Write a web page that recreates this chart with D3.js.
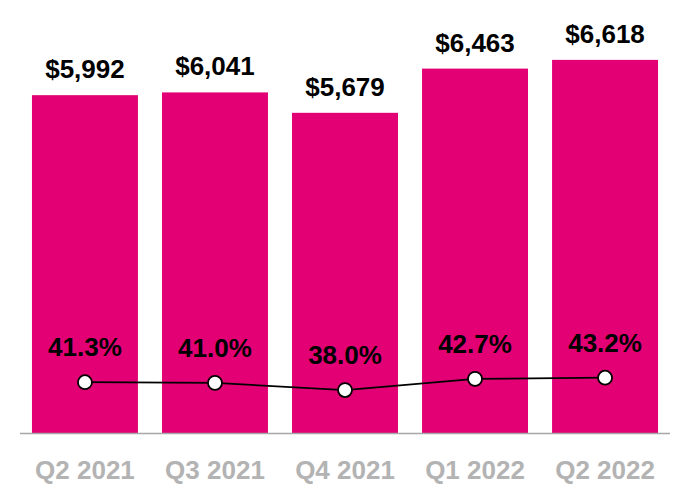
<!DOCTYPE html>
<html>
<head>
<meta charset="utf-8">
<script src="https://cdn.jsdelivr.net/npm/d3@7"></script>
<style>
  html, body { margin: 0; padding: 0; background: #fff; }
  text { font-family: "Liberation Sans", Arial, sans-serif; font-weight: bold; }
</style>
</head>
<body>
<div id="chart"></div>
<script>
const quarters = ['Q2 2021', 'Q3 2021', 'Q4 2021', 'Q1 2022', 'Q2 2022'];
const revenue = [5992, 6041, 5679, 6463, 6618];
const margin = [41.3, 41.0, 38.0, 42.7, 43.2];

const width = 690;
const height = 500;
const baseline = 433;

const svg = d3.select('#chart')
  .append('svg')
    .attr('width', width)
    .attr('height', height);

const x = d3.scaleBand()
  .domain(quarters)
  .range([20, 670])
  .paddingInner(0.185)
  .paddingOuter(0.092);

const y = d3.scaleLinear()
  .domain([0, 7680])
  .range([baseline, 0]);

// margin line sits inside the bars
const yLine = d3.scaleLinear()
  .domain([30, 50])
  .range([409, 361.6]);

const data = quarters.map((q, i) => ({ q, rev: revenue[i], pct: margin[i] }));

svg.append('g')
  .selectAll('rect')
  .data(data)
  .enter()
    .append('rect')
      .attr('x', d => x(d.q))
      .attr('y', d => y(d.rev))
      .attr('width', x.bandwidth())
      .attr('height', d => baseline - y(d.rev))
      .style('fill', '#e20074');

// value labels
svg.append('g')
  .selectAll('text')
  .data(data)
  .enter()
    .append('text')
      .attr('x', d => x(d.q) + x.bandwidth() / 2)
      .attr('y', d => y(d.rev) - 17)
      .attr('text-anchor', 'middle')
      .style('font-size', '26px')
      .style('fill', '#000')
      .text(d => '$' + d3.format(',')(d.rev));

// x axis
const xAxis = svg.append('g')
  .attr('transform', `translate(0,${baseline})`)
  .call(d3.axisBottom(x).tickSize(0).tickPadding(28));
xAxis.select('.domain')
  .attr('d', 'M20,0.5H670')
  .style('stroke', '#a6a6a6')
  .style('stroke-width', 1.5);
xAxis.selectAll('text')
  .style('font-size', '26px')
  .style('font-family', '"Liberation Sans", Arial, sans-serif')
  .style('font-weight', 'bold')
  .style('fill', '#b3b3b3');

// margin line
const line = d3.line()
  .x(d => x(d.q) + x.bandwidth() / 2)
  .y(d => yLine(d.pct));

svg.append('path')
  .datum(data)
  .attr('d', line)
  .style('fill', 'none')
  .style('stroke', '#000')
  .style('stroke-width', 1.8);

svg.append('g')
  .selectAll('circle')
  .data(data)
  .enter()
    .append('circle')
      .attr('cx', d => x(d.q) + x.bandwidth() / 2)
      .attr('cy', d => yLine(d.pct))
      .attr('r', 7)
      .style('fill', '#fff')
      .style('stroke', '#000')
      .style('stroke-width', 1.8);

svg.append('g')
  .selectAll('text')
  .data(data)
  .enter()
    .append('text')
      .attr('x', d => x(d.q) + x.bandwidth() / 2)
      .attr('y', d => yLine(d.pct) - 26)
      .attr('text-anchor', 'middle')
      .style('font-size', '26px')
      .style('fill', '#000')
      .text(d => d.pct.toFixed(1) + '%');
</script>
</body>
</html>
